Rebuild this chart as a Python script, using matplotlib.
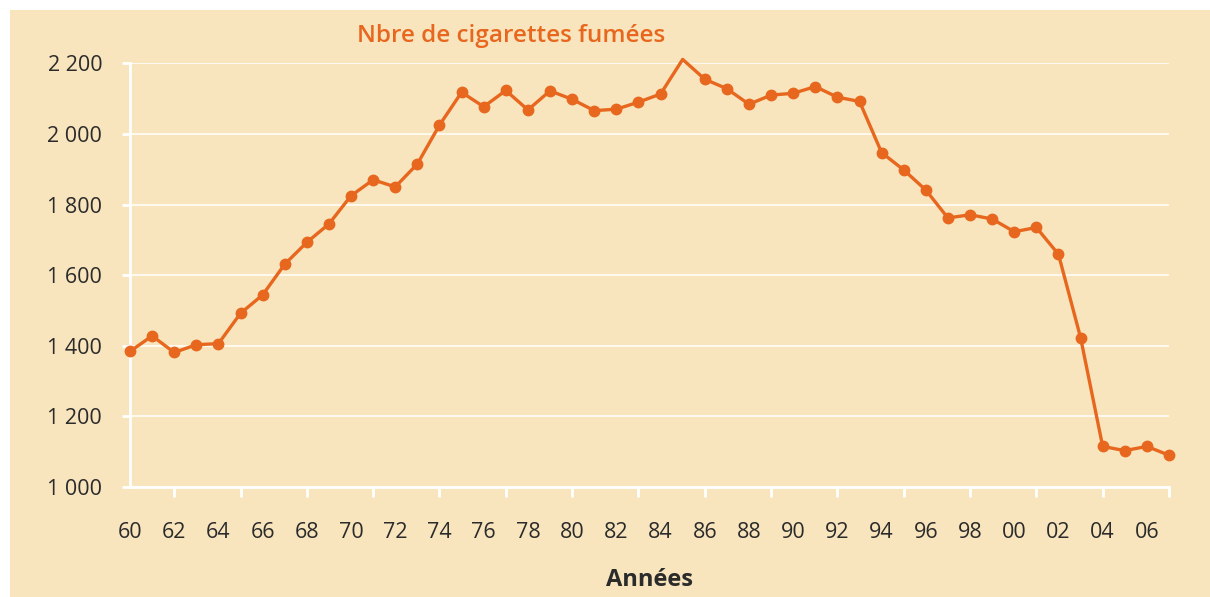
"""
Nombre de cigarettes fumées par an, 1960-2007
"""

import matplotlib.pyplot as plt
from matplotlib.patches import Rectangle
from matplotlib.ticker import FuncFormatter, MultipleLocator

# Données
years = list(range(1960, 2008))
cigarettes = [
    1384, 1428, 1381, 1403, 1406, 1492, 1544, 1631, 1693, 1745,
    1825, 1870, 1850, 1915, 2025, 2118, 2077, 2123, 2068, 2122,
    2098, 2066, 2070, 2090, 2113, 2211, 2155, 2128, 2084, 2110,
    2115, 2134, 2104, 2092, 1947, 1898, 1841, 1762, 1771, 1759,
    1723, 1735, 1659, 1423, 1115, 1103, 1115, 1090,
]
no_marker_year = 1985
y_ticks = [1000, 1200, 1400, 1600, 1800, 2000, 2200]

title = "Nbre de cigarettes fumées"
xlabel = "Années"

BG = '#F8E5BD'
ORANGE = '#E8671F'
TEXT = '#2B2B2B'

plt.rcParams['font.family'] = ['Open Sans', 'DejaVu Sans']

fig = plt.figure(figsize=(12.1, 5.97), dpi=100)
fig.patch.set_facecolor('white')
# fond beige (bordure blanche en haut et à gauche)
fig.patches.append(Rectangle((10 / 1210, 0), 1, 1 - 10 / 597,
                             transform=fig.transFigure, facecolor=BG,
                             edgecolor='none', zorder=-10))

ax = fig.add_axes([130 / 1210, 1 - 487 / 597, 1039 / 1210, 423.7 / 597])
ax.set_facecolor('none')

marks = [i for i, y in enumerate(years) if y != no_marker_year]
ax.plot(years, cigarettes, color=ORANGE, linewidth=2.4, marker='o',
        markersize=7.5, markevery=marks, clip_on=False, zorder=3)

ax.set_xlim(1960, 2007)
ax.set_ylim(1000, 2200)

# axes et grille blanches
for side in ['top', 'right']:
    ax.spines[side].set_visible(False)
for side in ['left', 'bottom']:
    ax.spines[side].set_color('white')
    ax.spines[side].set_linewidth(2)

ax.set_yticks(y_ticks)
ax.yaxis.set_major_formatter(FuncFormatter(lambda v, p: f"{int(v):,}".replace(',', ' ')))
ax.grid(axis='y', color='white', linewidth=1.3, alpha=0.85)
ax.tick_params(axis='y', colors='white', length=6, width=2, pad=14,
               labelcolor=TEXT, labelsize=15.5)

# graduations tous les 3 ans, étiquettes tous les 2 ans
ax.xaxis.remove_overlapping_locs = False
ax.xaxis.set_major_locator(MultipleLocator(3))
ax.xaxis.set_minor_locator(MultipleLocator(2))
ax.xaxis.set_major_formatter(FuncFormatter(lambda v, p: ''))
ax.xaxis.set_minor_formatter(FuncFormatter(lambda v, p: f"{int(v) % 100:02d}"))
ax.tick_params(axis='x', which='major', colors='white', length=7, width=2)
ax.tick_params(axis='x', which='minor', length=0, pad=25,
               labelcolor=TEXT, labelsize=15.5)

ax.set_xlabel(xlabel, fontsize=17, fontweight='bold', color=TEXT, labelpad=18)
fig.text(357 / 1210, 1 - 36 / 597, title, color=ORANGE, fontsize=17.5,
         fontweight='semibold', ha='left', va='center')

plt.savefig('out.png', dpi=100, facecolor='white')
plt.close()
